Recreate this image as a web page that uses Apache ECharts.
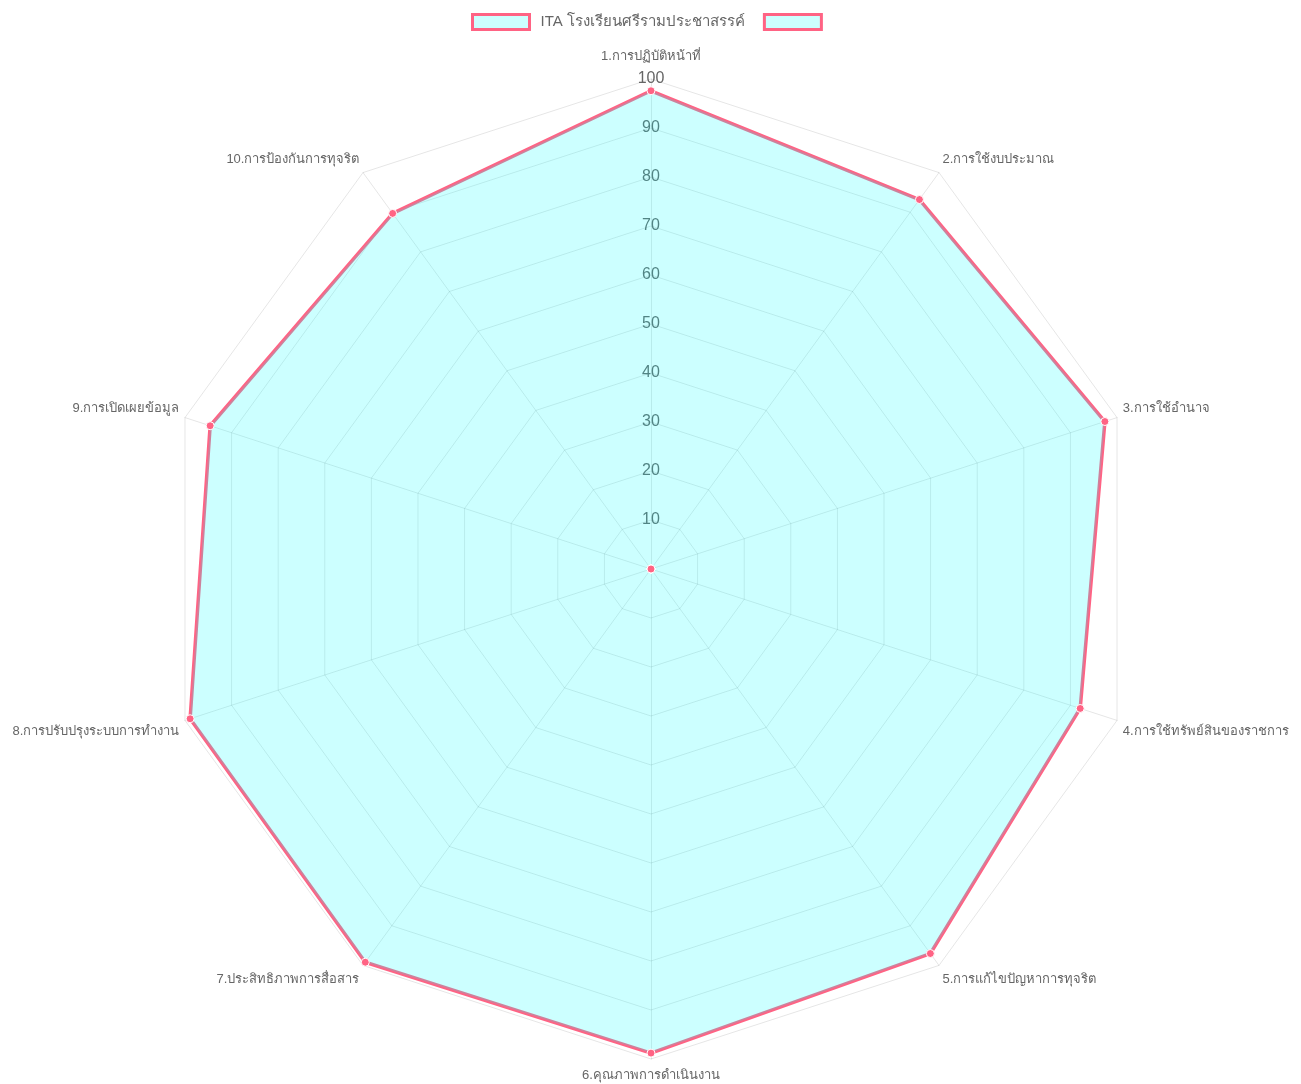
<!DOCTYPE html>
<html>
<head>
<meta charset="utf-8">
<script src="https://cdn.jsdelivr.net/npm/echarts@6/dist/echarts.min.js"></script>
<style>
  html, body { margin: 0; padding: 0; background: #fff; }
  #chart { width: 1301px; height: 1084px; }
</style>
</head>
<body>
<div id="chart"></div>
<script>
// data (clockwise from top, like the reference)
const categories = [
  '1.การปฏิบัติหน้าที่',
  '2.การใช้งบประมาณ',
  '3.การใช้อำนาจ',
  '4.การใช้ทรัพย์สินของราชการ',
  '5.การแก้ไขปัญหาการทุจริต',
  '6.คุณภาพการดำเนินงาน',
  '7.ประสิทธิภาพการสื่อสาร',
  '8.การปรับปรุงระบบการทำงาน',
  '9.การเปิดเผยข้อมูล',
  '10.การป้องกันการทุจริต'
]
const itaValues = [97.6, 93.2, 97.4, 92.1, 97.0, 98.8, 99.2, 98.9, 94.6, 89.7]
const emptyValues = [0, 0, 0, 0, 0, 0, 0, 0, 0, 0]
const seriesNames = ['ITA โรงเรียนศรีรามประชาสรรค์', ' ']

const PINK = 'rgb(255, 99, 132)'
const CYAN = 'rgba(0, 255, 255, 0.2)'
const FONT = "'Helvetica Neue', Helvetica, Arial, 'Noto Sans', sans-serif"

// extra padding per axis name so they sit like the chart.js point labels
const namePadding = [
  [0, 0, 10, 0], [0, 0, 16, 0], [0, 0, 14, 0], [18, 0, 0, 0], [18, 0, 0, 0],
  [4, 0, 0, 0], [18, 0, 0, 0], [18, 0, 0, 0], [0, 0, 14, 0], [0, 0, 16, 0]
]
const rich = {}
namePadding.forEach((p, i) => {
  rich['p' + i] = { color: '#666', fontSize: 13, fontFamily: FONT, padding: p }
})

// echarts radar runs counter-clockwise, so flip the order after the first axis
const order = [0].concat(categories.map((_, i) => i).slice(1).reverse())
const pick = arr => order.map(i => arr[i])

const chart = echarts.init(document.getElementById('chart'))

const option = {
  animation: false,
  textStyle: { fontFamily: FONT },
  legend: {
    top: 8,
    left: 466,
    data: seriesNames,
    icon: 'rect',
    itemWidth: 57,
    itemHeight: 15,
    itemGap: 18,
    itemStyle: { color: CYAN, borderColor: PINK, borderWidth: 3 },
    textStyle: { color: '#666', fontSize: 15, fontFamily: FONT, padding: [0, 0, 0, 6] }
  },
  radar: {
    center: [651, 569],
    radius: 490,
    startAngle: 90,
    shape: 'polygon',
    splitNumber: 10,
    indicator: pick(categories).map((name, i) => ({
      name,
      min: 0,
      max: 100,
      axisLabel: i === 0
        ? { show: true, showMinLabel: false, color: '#666', fontSize: 16, margin: 0, align: 'center', verticalAlign: 'middle', padding: [4, 0, 0, 0] }
        : { show: false }
    })),
    axisName: {
      color: '#666',
      fontSize: 13,
      fontFamily: FONT,
      formatter: name => '{p' + categories.indexOf(name) + '|' + name + '}',
      rich
    },
    nameGap: 6,
    splitArea: { show: false },
    splitLine: { lineStyle: { color: 'rgba(0,0,0,0.1)', width: 1 } },
    axisLine: { lineStyle: { color: 'rgba(0,0,0,0.1)', width: 1 } },
    axisTick: { show: false }
  },
  series: [
    {
      name: seriesNames[0],
      type: 'radar',
      symbol: 'circle',
      symbolSize: 8,
      itemStyle: { color: PINK, borderColor: '#fff', borderWidth: 1 },
      lineStyle: { color: PINK, width: 3.5 },
      areaStyle: { color: CYAN, opacity: 1 },
      data: [{ name: seriesNames[0], value: pick(itaValues) }]
    },
    {
      name: seriesNames[1],
      type: 'radar',
      symbol: 'circle',
      symbolSize: 8,
      itemStyle: { color: PINK, borderColor: '#fff', borderWidth: 1 },
      lineStyle: { color: PINK, width: 3.5 },
      areaStyle: { color: CYAN, opacity: 1 },
      data: [{ name: seriesNames[1], value: pick(emptyValues) }]
    }
  ]
}

chart.setOption(option)
</script>
</body>
</html>
